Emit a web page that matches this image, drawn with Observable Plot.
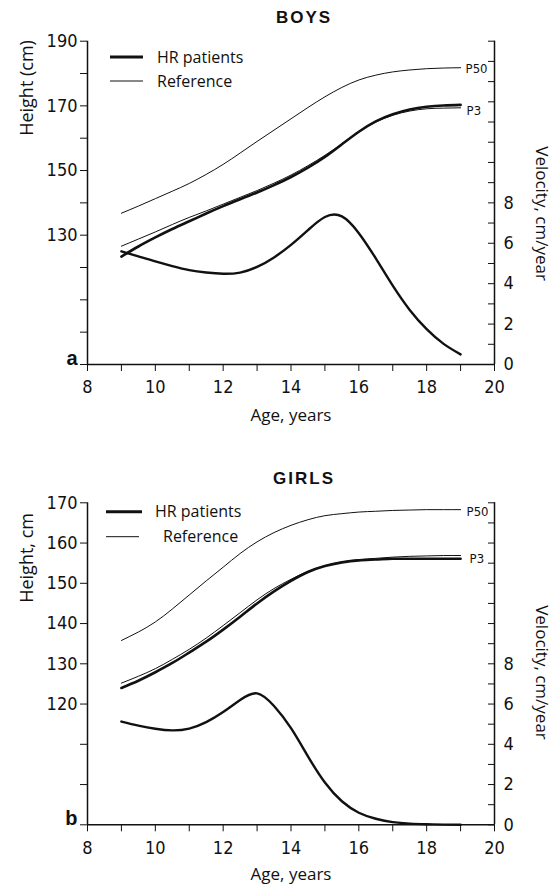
<!DOCTYPE html>
<html><head><meta charset="utf-8">
<script src="https://cdn.jsdelivr.net/npm/d3@7"></script>
<script src="https://cdn.jsdelivr.net/npm/@observablehq/plot@0.6"></script>
<style>
body{margin:0;background:#fff;}
#root{position:relative;width:553px;height:888px;overflow:hidden;}
.panel{position:absolute;left:0;width:553px;}
.legend{position:absolute;left:0;top:0;pointer-events:none;}
</style></head><body><div id="root"></div>
<script>
// ---- data ----
const ages = [9,9.5,10,10.5,11,11.5,12,12.5,13,13.5,14,14.5,15,15.5,16,16.5,17,17.5,18,18.5,19];

const boysP50 = [136.8,139.0,141.3,143.6,146.0,148.8,151.9,155.4,159.0,162.5,166.0,169.5,172.8,175.7,178.0,179.5,180.5,181.1,181.5,181.7,181.8];
const boysP3  = [126.6,128.8,131.0,133.3,135.5,137.5,139.6,141.7,143.8,146.1,148.6,151.5,154.7,158.3,162.0,165.0,167.1,168.4,169.1,169.3,169.4];
const boysHR  = [123.4,126.5,129.3,131.9,134.3,136.7,139.0,141.1,143.2,145.5,148.0,150.9,154.2,158.1,162.0,165.2,167.4,168.9,169.7,170.1,170.3];
const boysVel = [5.6,5.35,5.1,4.87,4.67,4.55,4.49,4.55,4.83,5.3,5.92,6.65,7.3,7.33,6.5,5.25,3.9,2.7,1.75,1.02,0.5];

const girlsP50 = [135.8,137.9,140.4,143.6,147.1,150.6,154.0,157.4,160.3,162.6,164.4,165.8,166.8,167.3,167.7,167.9,168.1,168.2,168.3,168.3,168.3];
const girlsP3  = [125.2,126.9,128.8,131.1,133.6,136.4,139.5,142.7,145.9,148.7,151.0,153.0,154.4,155.3,155.9,156.2,156.5,156.7,156.8,156.9,156.9];
const girlsHR  = [124.0,125.8,127.9,130.2,132.8,135.5,138.5,141.7,145.0,148.0,150.6,152.8,154.3,155.2,155.7,155.9,156.1,156.1,156.1,156.1,156.1];
const girlsVel = [5.13,4.93,4.77,4.69,4.78,5.1,5.6,6.2,6.53,5.9,4.8,3.4,2.1,1.17,0.6,0.3,0.13,0.06,0.03,0.01,0.0];

const xDomain = [8, 20];
const xTicks = [8,9,10,11,12,13,14,15,16,17,18,19,20];
const xLabels = [8,10,12,14,16,18,20];
const velTicks = [0,1,2,3,4,5,6,7,8,9,10,11,12,13,14,15,16];
const velLabels = [0,2,4,6,8];

const boysHeightTicks = [90,100,110,120,130,140,150,160,170,180,190];
const boysHeightLabels = [130,150,170,190];
const girlsHeightTicks = [90,100,110,120,130,140,150,160,170];
const girlsHeightLabels = [120,130,140,150,160,170];

const legendLabels = ["HR patients", "Reference"];

const NARROW = '"Liberation Sans Narrow","DejaVu Sans Condensed",sans-serif';
const SANS = '"Open Sans",sans-serif';

function makePanel(o) {
  const base = o.yDomain[0];
  const toY = v => base + v * o.k;
  const rows = vals => ages.map((a, i) => ({age: a, value: vals[i]}));
  const p50 = rows(o.p50), p3 = rows(o.p3), hr = rows(o.hr);
  const vel = ages.map((a, i) => ({age: a, v: o.vel[i]}));
  const last = ages.length - 1;
  const svg = Plot.plot({
    width: 553, height: o.height,
    marginTop: o.mt, marginBottom: o.mb, marginLeft: 87, marginRight: 59,
    style: {fontFamily: NARROW, fontSize: "18px", color: "#111", background: "#fff", overflow: "visible"},
    x: {domain: xDomain},
    y: {domain: o.yDomain},
    marks: [
      Plot.axisX({ticks: xTicks, tickSize: 7, tickPadding: 9, tickFormat: d => xLabels.includes(d) ? String(d) : "", label: null}),
      Plot.axisY({ticks: o.hTicks, tickSize: 7, tickPadding: 3, tickFormat: d => o.hLabels.includes(d) ? String(d) : "", label: null}),
      Plot.axisY({anchor: "right", ticks: velTicks.map(toY), tickSize: 7, dx: -7, tickFormat: () => "", label: null}),
      Plot.axisY({anchor: "right", ticks: velLabels.map(toY), tickSize: 0, tickPadding: 9, tickFormat: d => String(Math.round((d - base) / o.k)), label: null}),
      Plot.ruleX(xDomain, {strokeWidth: 1.5}),
      Plot.ruleY([base], {strokeWidth: 1.5}),
      Plot.line(p50, {x: "age", y: "value", curve: "natural", strokeWidth: 1}),
      Plot.line(p3, {x: "age", y: "value", curve: "natural", strokeWidth: 1}),
      Plot.line(hr, {x: "age", y: "value", curve: "natural", strokeWidth: 2.6}),
      Plot.line(vel, {x: "age", y: d => toY(d.v), curve: "natural", strokeWidth: 2.4}),
      Plot.text([p50[last]], {x: "age", y: "value", text: () => "P50", dx: o.p50dx, dy: o.p50dy, textAnchor: "start", fontSize: 13}),
      Plot.text([p3[last]], {x: "age", y: "value", text: () => "P3", dx: o.p3dx, dy: o.p3dy, textAnchor: "start", fontSize: 13}),
      Plot.text([o.title], {frameAnchor: "top", dx: 13, dy: o.titleDy, fontFamily: '"Liberation Sans",sans-serif', fontWeight: "bold", fontSize: 17, lineAnchor: "middle"}),
      Plot.text([o.panel], {frameAnchor: "bottom-left", dx: -10, dy: -6, textAnchor: "end", lineAnchor: "middle", fontFamily: '"Liberation Sans",sans-serif', fontWeight: "bold", fontSize: 20}),
      Plot.text(["Age, years"], {frameAnchor: "bottom", dy: o.ageDy, lineAnchor: "middle", fontFamily: SANS, fontSize: 17}),
      Plot.text([o.yLabel], {frameAnchor: "left", rotate: -90, dx: -60, dy: o.yLabelDy, lineAnchor: "middle", fontFamily: SANS, fontSize: 18}),
      Plot.text(["Velocity, cm/year"], {frameAnchor: "right", rotate: 90, dx: 47, dy: o.vLabelDy, lineAnchor: "middle", fontFamily: SANS, fontSize: 17})
    ]
  });
  d3.select(svg).selectAll("text").filter(function() { return this.textContent === o.title; }).attr("letter-spacing", "2px");
  return svg;
}

const root = document.getElementById("root");

function addPanel(o) {
  const div = document.createElement("div");
  div.className = "panel";
  div.style.top = o.top + "px";
  div.style.height = o.height + "px";
  div.appendChild(makePanel(o));
  // legend overlay
  const lg = d3.select(div).append("svg").attr("class", "legend").attr("width", 553).attr("height", o.height);
  o.legend.forEach((it, i) => {
    lg.append("line").attr("x1", it.x1).attr("x2", it.x2).attr("y1", it.y).attr("y2", it.y)
      .attr("stroke", "#111").attr("stroke-width", i === 0 ? 3 : 1);
    lg.append("text").attr("x", it.tx).attr("y", it.y).attr("dy", "0.35em")
      .attr("font-family", SANS).attr("font-size", 16).attr("fill", "#111").text(legendLabels[i]);
  });
  root.appendChild(div);
}

addPanel({
  top: 0, height: 440, mt: 40.7, mb: 76,
  yDomain: [90, 190], k: 6.25,
  hTicks: boysHeightTicks, hLabels: boysHeightLabels,
  p50: boysP50, p3: boysP3, hr: boysHR, vel: boysVel,
  p50dx: 5, p50dy: 1, p3dx: 6, p3dy: 3,
  title: "BOYS", titleDy: -23.7, panel: "a",
  ageDy: 51, yLabel: "Height (cm)", yLabelDy: -67, vLabelDy: 78,
  legend: [{x1: 110, x2: 143, y: 57, tx: 157}, {x1: 110, x2: 143, y: 81, tx: 157}]
});

addPanel({
  top: 440, height: 448, mt: 62.3, mb: 63.7,
  yDomain: [90, 170], k: 5,
  hTicks: girlsHeightTicks, hLabels: girlsHeightLabels,
  p50: girlsP50, p3: girlsP3, hr: girlsHR, vel: girlsVel,
  p50dx: 6, p50dy: 2, p3dx: 9, p3dy: 3,
  title: "GIRLS", titleDy: -24.3, panel: "b",
  ageDy: 50, yLabel: "Height, cm", yLabelDy: -61, vLabelDy: 76,
  legend: [{x1: 106, x2: 142, y: 71.7, tx: 155}, {x1: 106, x2: 139, y: 96.7, tx: 163}]
});
</script></body></html>
